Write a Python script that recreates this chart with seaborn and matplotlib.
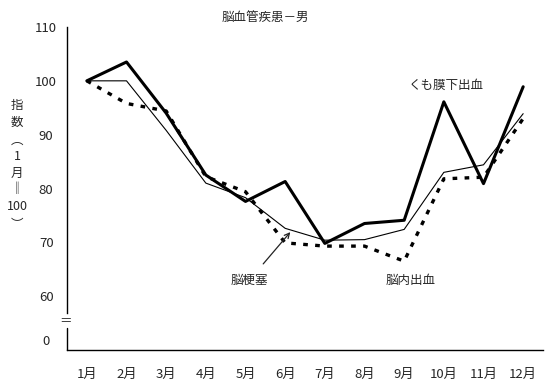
import pandas as pd
import seaborn as sns
import matplotlib.pyplot as plt
import numpy as np

months = ['1月', '2月', '3月', '4月', '5月', '6月', '7月', '8月', '9月', '10月', '11月', '12月']
kumomaku = [100, 103.5, 94, 82.5, 77.6, 81.3, 69.8, 73.5, 74.1, 96.1, 80.9, 98.9]   # くも膜下出血
koushoku = [100, 100, 90.8, 81, 78.3, 72.6, 70.4, 70.5, 72.4, 83, 84.4, 93.9]       # 脳梗塞
naishukketsu = [100, 95.8, 94.4, 82.2, 79.4, 69.9, 69.3, 69.3, 66.5, 81.8, 82.1, 93] # 脳内出血

ytick_vals = [51.85, 60, 70, 80, 90, 100, 110]
ytick_labels = ['0', '60', '70', '80', '90', '100', '110']

sns.set_style("white")
plt.rcParams['font.family'] = ['Noto Sans CJK JP', 'DejaVu Sans']

df = pd.DataFrame({'pos': np.arange(len(months)),
                   'くも膜下出血': kumomaku, '脳梗塞': koushoku, '脳内出血': naishukketsu})

fig = plt.figure(figsize=(5.48, 3.86), dpi=100)
ax = fig.add_axes([67/548, 1-350/386, (543-67)/548, (350-27)/386])

sns.lineplot(data=df, x='pos', y='脳梗塞', color='black', linewidth=0.8, ax=ax)
sns.lineplot(data=df, x='pos', y='脳内出血', color='black', linewidth=2.4, ax=ax,
             dashes=False).lines[-1].set_dashes((1.4, 2.2))
sns.lineplot(data=df, x='pos', y='くも膜下出血', color='black', linewidth=2.2, ax=ax)

ax.set_xlim(-0.5, len(months) - 0.5)
ax.set_ylim(50, 110)
ax.set_xlabel('')
ax.set_ylabel('')

# x: labels centred, tick marks on the boundaries
ax.set_xticks(np.arange(len(months)))
ax.set_xticklabels(months, fontsize=9.5)
ax.set_xticks(np.arange(len(months) + 1) - 0.5, minor=True)
ax.tick_params(axis='x', which='major', length=0, pad=13)
ax.tick_params(axis='x', which='minor', direction='in', length=5, width=1, color='black')

ax.set_yticks(ytick_vals)
ax.set_yticklabels(ytick_labels, fontsize=9.5, ha='center')
ax.tick_params(axis='y', direction='in', length=4, width=1, color='black', pad=15)
ax.yaxis.get_major_ticks()[0].tick1line.set_visible(False)

for s in ['top', 'right']:
    ax.spines[s].set_visible(False)
for s in ['left', 'bottom']:
    ax.spines[s].set_color('black')
    ax.spines[s].set_linewidth(1)

# broken y axis
ax.spines['left'].set_bounds(56.9, 110)
ax.plot([-0.5, -0.5], [50, 54.1], color='black', lw=1, clip_on=False)
ax.text(-0.53, 55.3, '＝', ha='center', va='center', fontsize=9)

ax.text(9.05, 99.1, 'くも膜下出血', ha='center', va='center', fontsize=9)
ax.text(8.15, 63, '脳内出血', ha='center', va='center', fontsize=9)
ax.annotate('脳梗塞', xy=(5.13, 71.9), xytext=(4.1, 63), ha='center', va='center', fontsize=9,
            arrowprops=dict(arrowstyle='->', color='#222222', lw=0.9, shrinkA=6, shrinkB=0))

fig.text(265/548, 1-17/386, '脳血管疾患－男', ha='center', va='center', fontsize=9)

ylab = ['指', '数', '︵', '1', '月', '‖', '100', '︶']
ylab_y = [105, 122, 140, 157, 173, 189, 207, 225]
for t, yy in zip(ylab, ylab_y):
    fig.text(17/548, 1-yy/386, t, ha='center', va='center', fontsize=9)

fig.savefig('out.png', dpi=100)
